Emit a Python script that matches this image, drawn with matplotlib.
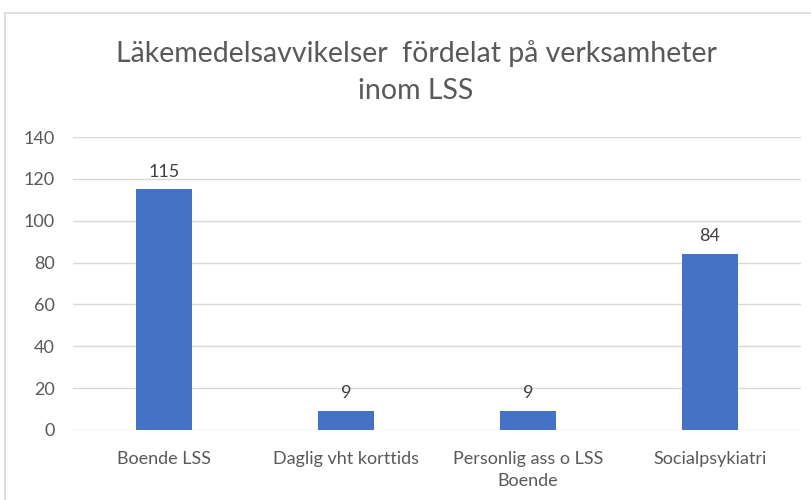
import matplotlib.pyplot as plt
from matplotlib.patches import Rectangle

# data
categories = ["Boende LSS", "Daglig vht korttids", "Personlig ass o LSS\nBoende", "Socialpsykiatri"]
values = [115, 9, 9, 84]
yticks = [0, 20, 40, 60, 80, 100, 120, 140]
title = "Läkemedelsavvikelser  fördelat på verksamheter\ninom LSS"

plt.rcParams['font.family'] = ['Lato', 'DejaVu Sans']

fig = plt.figure(figsize=(8.11, 5.0), dpi=100)
ax = fig.add_axes([73/811, 1 - 430/500, 728/811, 293/500])

x = range(len(categories))
bars = ax.bar(x, values, width=0.31, color="#4472C4", zorder=3)

for b, v in zip(bars, values):
    ax.annotate(str(v), (b.get_x() + b.get_width()/2, v), xytext=(0, 7),
                textcoords="offset points", ha="center", va="bottom",
                fontsize=13, color="#404040")

ax.set_xlim(-0.5, len(categories) - 0.5)
ax.set_ylim(0, 140)
ax.set_yticks(yticks)
ax.set_xticks(list(x))
ax.set_xticklabels(categories, linespacing=1.45)
ax.grid(axis="y", color="#d9d9d9", linewidth=1, zorder=0)
for s in ax.spines.values():
    s.set_visible(False)
ax.tick_params(axis="both", length=0, labelsize=13, labelcolor="#595959")
ax.tick_params(axis="x", pad=15)
ax.tick_params(axis="y", pad=13)

fig.text(416/811, 1 - 72/500, title, ha="center", va="center",
         fontsize=20.5, color="#595959", linespacing=1.5)

# chart border (cropped on right and bottom)
fig.patches.append(Rectangle((5/811, -0.1), 1.2, 1 - 13/500 + 0.1,
                             transform=fig.transFigure, fill=False,
                             edgecolor="#d9d9d9", linewidth=1.2))

fig.savefig("out.png", dpi=100)
